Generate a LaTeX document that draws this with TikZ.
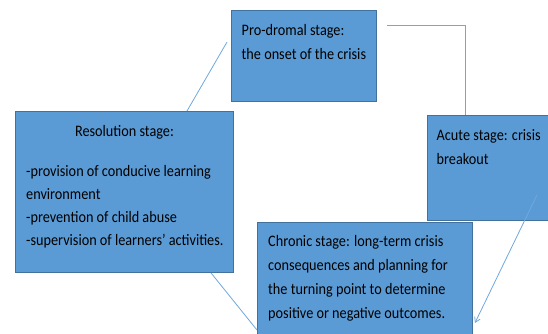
\documentclass[tikz,border=0pt]{standalone}
\usepackage{fontspec}
\setmainfont{Carlito}[FakeStretch=0.89]
\usetikzlibrary{calc,arrows.meta}
\definecolor{stagefill}{HTML}{5B9BD5}
\definecolor{stageedge}{HTML}{41719C}
\definecolor{linkcol}{HTML}{6FA8DC}
\begin{document}
\begin{tikzpicture}[x=1pt,y=-1pt,
  stagebox/.style={draw=stageedge,fill=stagefill,line width=0.9pt,inner sep=0pt,anchor=north west},
  stagetext/.style={inner sep=0pt,align=left,anchor=north west,text=black,
    font={\fontsize{16}{24}\selectfont}},
  link/.style={draw=linkcol,line width=0.8pt},
  tip/.style={-{Straight Barb[length=5pt,width=6pt]}}]
  \useasboundingbox (0,0) rectangle (548,333);
  \clip (0,0) rectangle (548,333);

  % stage boxes
  \node[stagebox,minimum width=145pt,minimum height=91pt] (pro) at (231,10) {};
  \node[stagebox,minimum width=135pt,minimum height=105pt] (acute) at (427,115) {};
  \node[stagebox,minimum width=218pt,minimum height=161pt] (res) at (15,111) {};
  \node[stagebox,minimum width=215pt,minimum height=130pt] (chron) at (257,222) {};

  % box texts
  \node[stagetext] (protext) at ($(pro.north west)+(10.5,13)$)
    {\rule{0pt}{12pt}Pro-dromal stage:\\the onset of the crisis};
  \node[stagetext] (acutetext) at ($(acute.north west)+(9.5,13)$)
    {\rule{0pt}{12pt}Acute stage: crisis\\breakout};
  \node[stagetext,anchor=north,align=center] (restitle) at ($(res.north)+(0,13)$)
    {\rule{0pt}{12pt}Resolution stage:};
  \node[stagetext,font={\fontsize{16}{23}\selectfont}] (resbody) at ($(res.north west)+(11,53)$)
    {\rule{0pt}{12pt}-provision of conducive learning\\environment\\-prevention of child abuse\\-supervision of learners’ activities.};
  \node[stagetext] (chrontext) at ($(chron.north west)+(11,12.7)$)
    {\rule{0pt}{12pt}Chronic stage: long-term crisis\\consequences and planning for\\the turning point to determine\\positive or negative outcomes.};

  % connectors of the cycle
  \coordinate (proout) at ($(pro.north east)+(10,15.3)$);
  \coordinate (acutein) at ($(acute.north west)+(38,0)$);
  \draw[link] (proout) -| (acutein);
  \coordinate (acuteout) at ($(acute.north west)+(110,80)$);
  \coordinate (chronin) at ($(chron.north east)+(2,101)$);
  \draw[link,tip] (acuteout) -- (chronin);
  \coordinate (resout) at ($(res.south west)+(196,0)$);
  \coordinate (chronleft) at ($(chron.north west)+(0,108)$);
  \draw[link] (resout) -- (chronleft);
  \coordinate (resup) at ($(res.north west)+(172,0)$);
  \coordinate (proin) at ($(pro.north west)+(-4,32)$);
  \draw[link] (resup) -- (proin);
\end{tikzpicture}
\end{document}
